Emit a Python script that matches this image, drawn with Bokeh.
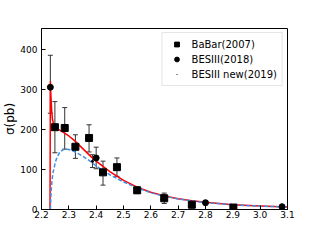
import numpy as np
from bokeh.plotting import figure
from bokeh.models import (ColumnDataSource, Whisker, TeeHead, Legend, LegendItem,
                          FixedTicker, Range1d, Label)
from bokeh.embed import file_html
from bokeh.resources import INLINE

# ---- data ----
babar_x = [2.249, 2.285, 2.324, 2.374, 2.425, 2.476, 2.550, 2.649, 2.750, 2.902]
babar_y = [205, 203, 156, 178, 92, 105, 47, 27, 11, 4]
babar_lo = [141, 150, 127, 143, 60, 82, 39, 14, 3, 1]
babar_hi = [269, 254, 186, 211, 120, 128, 56, 40, 17, 7]

bes18_x = [2.2324, 2.400, 2.800, 3.080]
bes18_y = [305, 128, 16, 6]
bes18_lo = [240, 101, 11, 4]
bes18_hi = [385, 155, 21, 8]

bes19_x = [2.3864, 2.6444]
bes19_y = [120, 30]
bes19_lo = [104, 24]
bes19_hi = [136, 36]

red_x = [2.2312, 2.2318, 2.2325, 2.234, 2.237, 2.240, 2.245, 2.260, 2.280, 2.300,
         2.320, 2.350, 2.380, 2.400, 2.450, 2.500, 2.550, 2.600, 2.650, 2.700,
         2.750, 2.800, 2.900, 3.000, 3.100]
red_y = [0, 150, 320, 290, 250, 225, 210, 200, 192, 183,
         172, 152, 132, 120, 94, 72, 55, 42, 33, 26,
         21, 17, 11, 8, 5]

blue_x = [2.2325, 2.234, 2.236, 2.240, 2.243, 2.250, 2.255, 2.267, 2.280, 2.290,
          2.300, 2.320, 2.350, 2.380, 2.400, 2.425, 2.450, 2.500, 2.550, 2.600,
          2.650, 2.700, 2.750, 2.800, 2.900, 3.000, 3.100]
blue_y = [0, 25, 53, 80, 94, 115, 127, 143, 149, 150,
          149, 144, 133, 119, 108, 96, 86, 68, 53, 41,
          32, 25.5, 20.5, 16.5, 10.5, 7.5, 5]

x_ticks = [2.2, 2.3, 2.4, 2.5, 2.6, 2.7, 2.8, 2.9, 3.0, 3.1]
y_ticks = [0, 100, 200, 300, 400]
x_label = "√s(GeV)"
y_label = "σ(pb)"

FONT = "DejaVu Sans"
ERR = "#333333"

p = figure(width=304, height=232, output_backend="svg", toolbar_location=None,
           x_range=Range1d(2.2, 3.1), y_range=Range1d(-1, 452),
           min_border_left=40, min_border_right=17, min_border_top=28,
           min_border_bottom=23)
p.background_fill_color = "white"
p.border_fill_color = "white"
p.outline_line_color = "black"
p.outline_line_width = 1
p.grid.visible = False

for ax in (p.xaxis[0], p.yaxis[0]):
    ax.major_tick_in = 4
    ax.major_tick_out = 0
    ax.minor_tick_line_color = None
    ax.axis_line_color = "black"
    ax.major_tick_line_color = "black"
    ax.major_label_text_font = FONT
    ax.major_label_text_font_size = "9px"
    ax.major_label_text_color = "black"
    ax.axis_label_text_font = FONT
    ax.axis_label_text_font_style = "normal"
    ax.axis_label_text_color = "black"

p.xaxis.ticker = FixedTicker(ticks=x_ticks)
p.yaxis.ticker = FixedTicker(ticks=y_ticks)
p.xaxis.major_label_overrides = {t: f"{t:.1f}" for t in x_ticks}
p.xaxis.major_label_standoff = 1
p.yaxis.major_label_standoff = 4
p.yaxis.axis_label = y_label
p.yaxis.axis_label_text_font_size = "12px"
p.yaxis.axis_label_standoff = 0

p.add_layout(Label(x=123, y=-22, x_units="screen", y_units="screen", text=x_label,
                   text_font=FONT, text_font_size="11px", text_color="black",
                   text_align="center", text_baseline="bottom"))

# curves
p.line(red_x, red_y, line_color="red", line_width=1.5)
p.line(blue_x, blue_y, line_color="#3d8fe8", line_width=1.5, line_dash="4 2")

# error bars
def errbars(xs, lo, hi):
    src = ColumnDataSource(dict(x=xs, lo=lo, hi=hi))
    w = Whisker(base="x", lower="lo", upper="hi", source=src,
                line_color=ERR, line_width=1,
                upper_head=TeeHead(size=5, line_color=ERR, line_width=1),
                lower_head=TeeHead(size=5, line_color=ERR, line_width=1))
    p.add_layout(w)

errbars(babar_x, babar_lo, babar_hi)
errbars(bes18_x, bes18_lo, bes18_hi)
errbars(bes19_x, bes19_lo, bes19_hi)

r_babar = p.scatter(babar_x, babar_y, marker="square", size=7, color="black")
r_bes18 = p.scatter(bes18_x, bes18_y, marker="circle", size=6, color="black")
r_bes19 = p.scatter(bes19_x, bes19_y, marker="dot", size=12, color="black")

legend = Legend(items=[
    LegendItem(label="BaBar(2007)", renderers=[r_babar]),
    LegendItem(label="BESIII(2018)", renderers=[r_bes18]),
    LegendItem(label="BESIII new(2019)", renderers=[r_bes19]),
], location="top_right")
legend.margin = 4
legend.padding = 5
legend.spacing = 3
legend.label_height = 12
legend.glyph_height = 12
legend.glyph_width = 18
legend.label_standoff = 6
legend.label_text_font = FONT
legend.label_text_font_size = "10px"
legend.label_text_color = "black"
legend.border_line_color = "#cccccc"
legend.border_line_width = 1
legend.background_fill_color = "white"
legend.background_fill_alpha = 0.8
p.add_layout(legend)

open("out.html", "w").write(file_html(p, INLINE))
